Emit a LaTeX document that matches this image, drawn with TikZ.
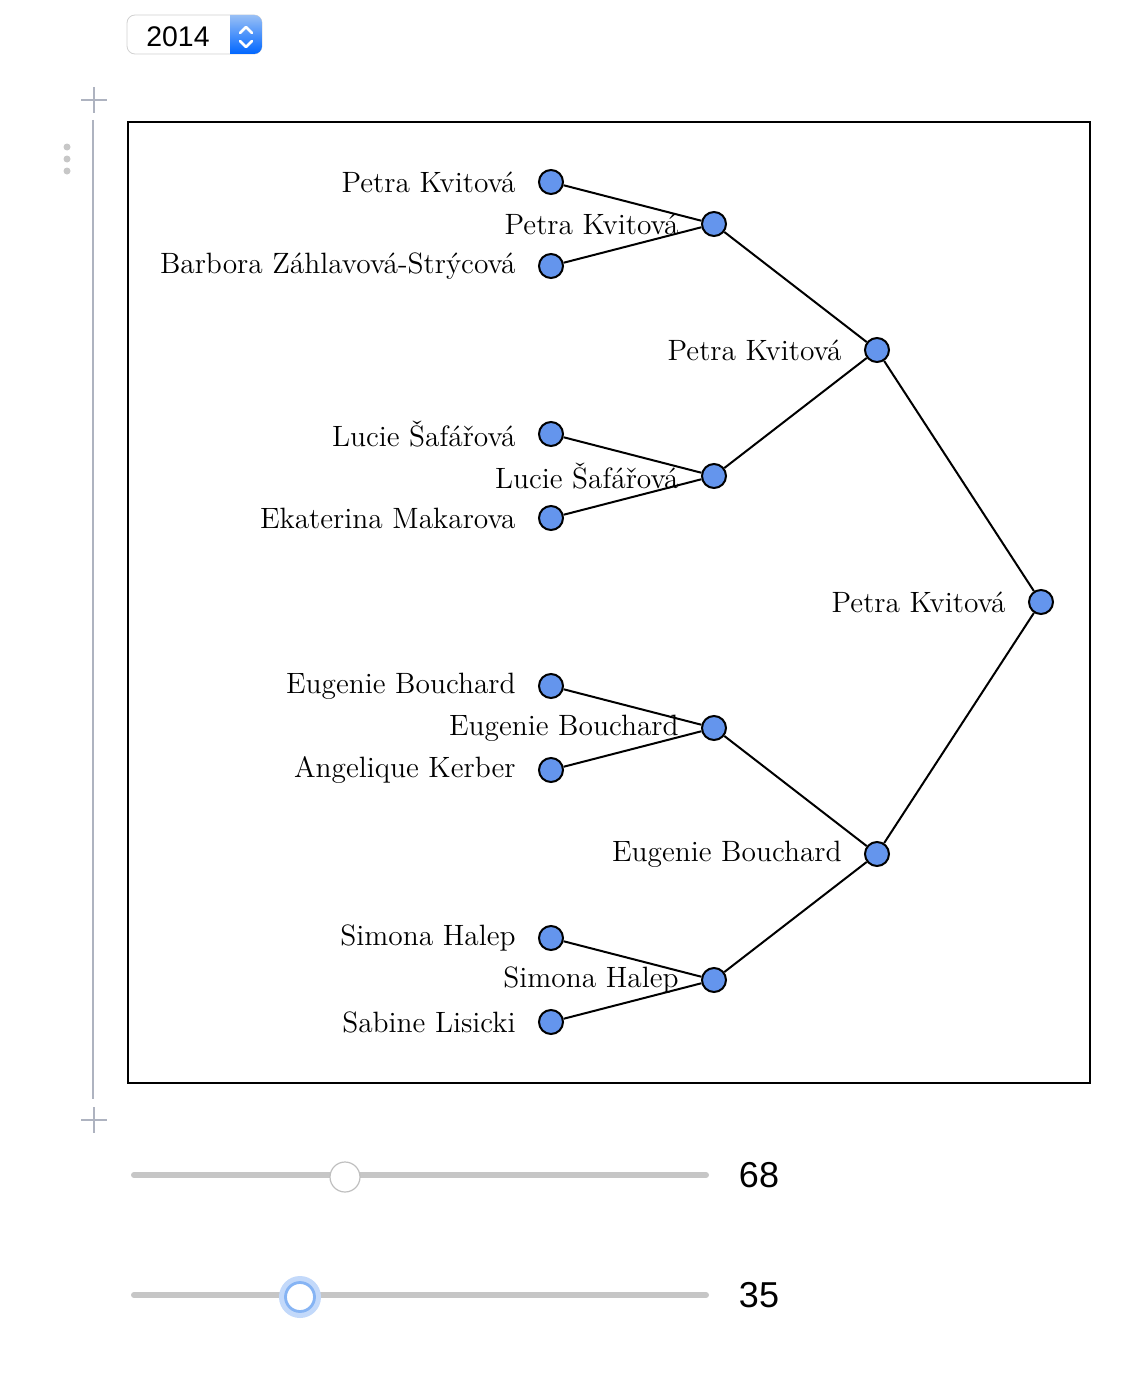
\documentclass[tikz,border=0pt]{standalone}
\usepackage{fontspec}
\usepackage{xcolor}
\setsansfont{Liberation Sans}
\definecolor{cornflower}{HTML}{6495ED}
\definecolor{gutter}{HTML}{AEB3C0}
\definecolor{track}{HTML}{C6C6C6}
\definecolor{ring}{HTML}{86B4F4}

\begin{document}
\begin{tikzpicture}[x=0.5pt,y=-0.5pt,
  player/.style={circle,draw=black,line width=1pt,fill=cornflower,minimum size=12pt,inner sep=0pt},
  tag/.style={font=\fontsize{14.7}{16}\selectfont,label distance=11pt,inner sep=0pt},
  match/.style={line width=1pt},
  val/.style={font=\sffamily\fontsize{18}{21}\selectfont,inner sep=0pt}]
\useasboundingbox (0,0) rectangle (1126,1386);
% year selector
\draw [draw=black!18,fill=white,rounded corners=4pt] (127,15) rectangle (262,54);
\begin{scope}
\clip [rounded corners=4pt] (127,15) rectangle (262,54);
\shade [top color=ring!85,bottom color=blue!60!cyan] (230,15) rectangle (262,54);
\end{scope}
\draw [white,line width=1.3pt,line cap=round,line join=round] (240,33) -- (246,27) -- (252,33);
\draw [white,line width=1.3pt,line cap=round,line join=round] (240,41) -- (246,47) -- (252,41);
\node [font=\sffamily\fontsize{14.2}{17}\selectfont,inner sep=0pt] (year) at (178,37) {2014};
% cell gutter
\draw [gutter,line width=1pt] (81,100) -- (107,100) (94,87) -- (94,113);
\draw [gutter,line width=1pt] (81,1120) -- (107,1120) (94,1107) -- (94,1133);
\draw [gutter,line width=1pt] (93,120) -- (93,1099);
\foreach \y in {147,159,171}
  \fill [black!22] (67,\y) circle (3.5);
% frame
\draw [black,line width=1pt] (128,122) rectangle (1090,1083);
% bracket
\node [player,label={[tag]left:Petra Kvitová}] (a1) at (551,182) {};
\node [player,label={[tag]left:Barbora Záhlavová-Strýcová}] (a2) at (551,266) {};
\node [player,label={[tag]left:Lucie Šafářová}] (a3) at (551,434) {};
\node [player,label={[tag]left:Ekaterina Makarova}] (a4) at (551,518) {};
\node [player,label={[tag]left:Eugenie Bouchard}] (a5) at (551,686) {};
\node [player,label={[tag]left:Angelique Kerber}] (a6) at (551,770) {};
\node [player,label={[tag]left:Simona Halep}] (a7) at (551,938) {};
\node [player,label={[tag]left:Sabine Lisicki}] (a8) at (551,1022) {};
\node [player,label={[tag]left:Petra Kvitová}] (b1) at (714,224) {};
\node [player,label={[tag]left:Lucie Šafářová}] (b2) at (714,476) {};
\node [player,label={[tag]left:Eugenie Bouchard}] (b3) at (714,728) {};
\node [player,label={[tag]left:Simona Halep}] (b4) at (714,980) {};
\node [player,label={[tag]left:Petra Kvitová}] (c1) at (877,350) {};
\node [player,label={[tag]left:Eugenie Bouchard}] (c2) at (877,854) {};
\node [player,label={[tag]left:Petra Kvitová}] (d1) at (1041,602) {};
\draw [match] (a1) -- (b1);
\draw [match] (a2) -- (b1);
\draw [match] (a3) -- (b2);
\draw [match] (a4) -- (b2);
\draw [match] (a5) -- (b3);
\draw [match] (a6) -- (b3);
\draw [match] (a7) -- (b4);
\draw [match] (a8) -- (b4);
\draw [match] (b1) -- (c1);
\draw [match] (b2) -- (c1);
\draw [match] (b3) -- (c2);
\draw [match] (b4) -- (c2);
\draw [match] (c1) -- (d1);
\draw [match] (c2) -- (d1);
% sliders
\draw [track,line width=3pt,line cap=round] (134,1175) -- (706,1175);
\node [circle,draw=black!25,fill=white,line width=0.6pt,minimum size=15pt,inner sep=0pt] (knobA) at (345,1177) {};
\node [val] (valA) at (759,1175) {68};
\draw [track,line width=3pt,line cap=round] (134,1295) -- (706,1295);
\node [circle,draw=ring!50,line width=3pt,minimum size=18pt,inner sep=0pt] (haloB) at (300,1297) {};
\node [circle,draw=ring,fill=white,line width=1.4pt,minimum size=14.5pt,inner sep=0pt] (knobB) at (300,1297) {};
\node [val] (valB) at (759,1295) {35};
\end{tikzpicture}
\end{document}
